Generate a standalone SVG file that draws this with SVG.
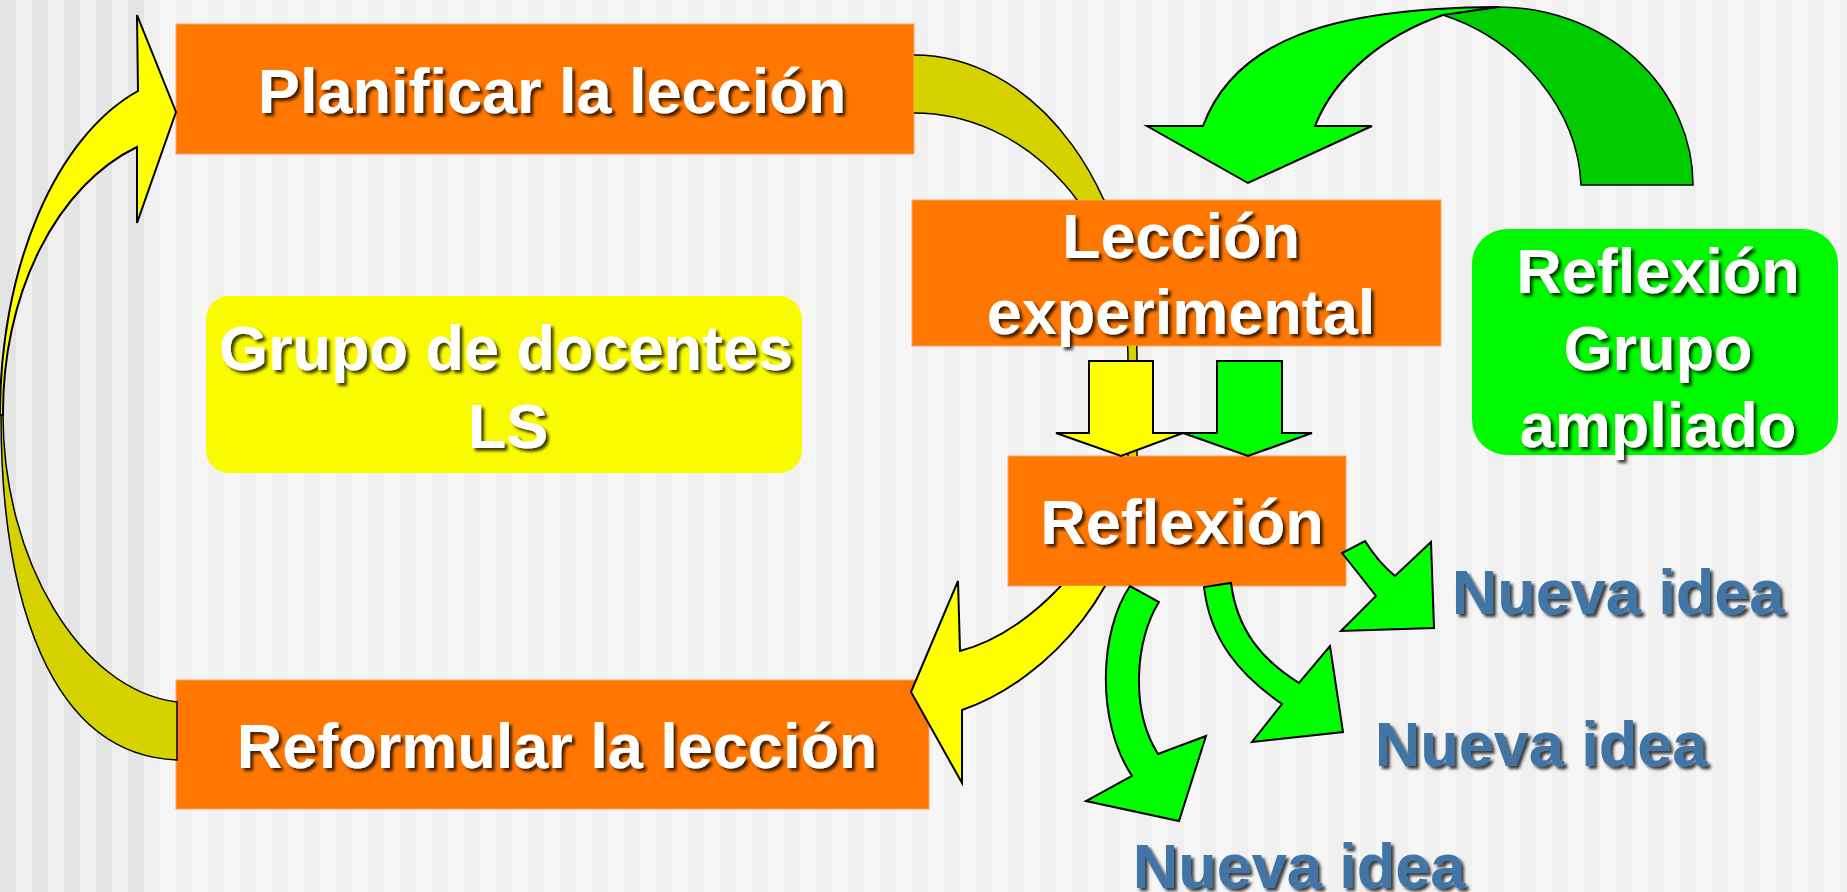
<svg xmlns="http://www.w3.org/2000/svg" width="1847" height="892" viewBox="0 0 1847 892">
<defs>
  <pattern id="stripesL" width="32" height="892" patternUnits="userSpaceOnUse">
    <rect width="16" height="892" fill="#e4e4e4"/>
    <rect x="16" width="16" height="892" fill="#efefef"/>
  </pattern>
  <pattern id="stripesR" width="32" height="892" patternUnits="userSpaceOnUse">
    <rect width="16" height="892" fill="#f6f6f6"/>
    <rect x="16" width="16" height="892" fill="#f0f0f0"/>
  </pattern>
  <filter id="shadow" x="-10%" y="-20%" width="120%" height="150%">
    <feDropShadow dx="3" dy="3" stdDeviation="1.8" flood-color="#000" flood-opacity="0.75"/>
  </filter>
  <clipPath id="behindBoxes">
    <path clip-rule="evenodd" d="M0 0H1847V892H0Z M912 200H1441V346H912Z M1008 456H1346V586H1008Z"/>
  </clipPath>
  <style>
    .box { fill: #ff7600; stroke: #ffa366; stroke-width: 1; }
    .lbl { font-family: "Liberation Sans", Arial, Helvetica, sans-serif; font-weight: bold; font-size: 63px; fill: #ffffff; text-anchor: middle; filter: url(#shadow); }
    .idea { font-family: "Liberation Sans", Arial, Helvetica, sans-serif; font-weight: bold; font-size: 63px; fill: #4174a6; text-anchor: middle; filter: url(#shadow); }
    .yb { fill: #ffff00; stroke: #000; stroke-width: 2; stroke-linejoin: miter; }
    .yd { fill: #d6d200; stroke: #000; stroke-width: 1.5; }
    .gb { fill: #00ff00; stroke: #000; stroke-width: 2; stroke-linejoin: miter; }
    .gd { fill: #00cc00; stroke: #000; stroke-width: 1.5; }
    .edge { fill: none; stroke: #000; stroke-width: 1.5; }
  </style>
</defs>

<g id="background">
  <rect width="1847" height="892" fill="url(#stripesR)"/>
  <rect width="144" height="892" fill="url(#stripesL)"/>
</g>

<g id="node-planificar">
  <rect class="box" x="176" y="24" width="738" height="130"/>
  <text class="lbl" x="552" y="113">Planificar la lección</text>
</g>

<g id="node-leccion">
  <rect class="box" x="912" y="200" width="529" height="146"/>
  <text class="lbl" x="1181" y="258">Lección</text>
  <text class="lbl" x="1181" y="334">experimental</text>
</g>

<g id="node-grupo-docentes">
  <rect x="206" y="296" width="596" height="177" rx="23" fill="#fafa00"/>
  <text class="lbl" x="506" y="370">Grupo de docentes</text>
  <text class="lbl" x="508" y="448">LS</text>
</g>

<g id="node-grupo-ampliado">
  <rect x="1472" y="229" width="366" height="226" rx="35" fill="#00f800"/>
  <text class="lbl" x="1658" y="293">Reflexión</text>
  <text class="lbl" x="1658" y="370">Grupo</text>
  <text class="lbl" x="1658" y="447">ampliado</text>
</g>

<g id="node-reformular">
  <rect class="box" x="176" y="680" width="753" height="129"/>
  <text class="lbl" x="557" y="768">Reformular la lección</text>
</g>

<g id="node-reflexion">
  <rect class="box" x="1008" y="456" width="338" height="130"/>
  <text class="lbl" x="1182" y="544">Reflexión</text>
</g>

<g id="connectors">
  <!-- left loop: Reformular -> Planificar -->
  <path class="yd" d="M1 415 C1 600 50 755 177 760 L177 702 C80 690 3 560 3 415 Z"/>
  <path class="yb" d="M0 415 A200 340 0 0 1 138 91 L137 15 L176 112 L137 223 L137 147 A197 280 0 0 0 3 415 Z"/>

  <!-- right loop back part: Planificar -> behind Lección -->
  <g clip-path="url(#behindBoxes)">
    <path d="M914 55 A223 305 0 0 1 1137 360 L1137 470 L1128 470 L1128 360 A214 247 0 0 0 914 113 Z" fill="#d6d200"/>
    <path class="edge" d="M914 55 A223 305 0 0 1 1137 360 L1137 470 M1128 470 L1128 360 A214 247 0 0 0 914 113"/>
  </g>

  <!-- top green loop: Reflexión Grupo ampliado -> Lección -->
  <path class="gd" d="M1443 15 L1498 7 A195 178 0 0 1 1693 185 L1581 185 C1578 110 1520 40 1443 15 Z"/>
  <path class="gb" d="M1203 126 C1235 40 1330 8 1498 7 L1443 15 C1385 35 1335 75 1315 126 L1372 126 L1248 183 L1147 126 Z"/>

  <!-- straight arrows Lección -> Reflexión -->
  <path class="yb" d="M1089 361 L1153 361 L1153 433 L1183 433 L1121 456 L1056 433 L1089 433 Z"/>
  <path class="gb" d="M1217 361 L1282 361 L1282 433 L1312 433 L1248 456 L1183 433 L1217 433 Z"/>

  <!-- right loop front part: Reflexión -> Reformular -->
  <g clip-path="url(#behindBoxes)">
    <path class="yb" d="M1137 470 C1137 580 1050 680 962 710 L962 783 L911 692 L958 581 L960 651 C1040 630 1110 540 1128 470 Z"/>
  </g>

  <!-- Reflexión -> Nueva idea arrows -->
  <path class="gb" d="M1130 586 C1100 630 1095 720 1132 776 L1086 801 L1179 821 L1206 736 L1158 754 C1130 710 1135 640 1159 602 Z"/>
  <path class="gb" d="M1204 587 C1210 640 1240 675 1282 704 L1252 742 L1343 732 L1330 646 L1299 683 C1262 660 1237 630 1231 583 Z"/>
  <path class="gb" d="M1342 553 Q1362 578 1376 596 L1341 631 L1434 628 L1431 542 L1395 576 Q1378 562 1365 541 Z"/>
</g>

<g id="label-idea-1">
  <text class="idea" x="1618" y="614">Nueva idea</text>
</g>
<g id="label-idea-2">
  <text class="idea" x="1541" y="766">Nueva idea</text>
</g>
<g id="label-idea-3">
  <text class="idea" x="1299" y="888">Nueva idea</text>
</g>
</svg>
